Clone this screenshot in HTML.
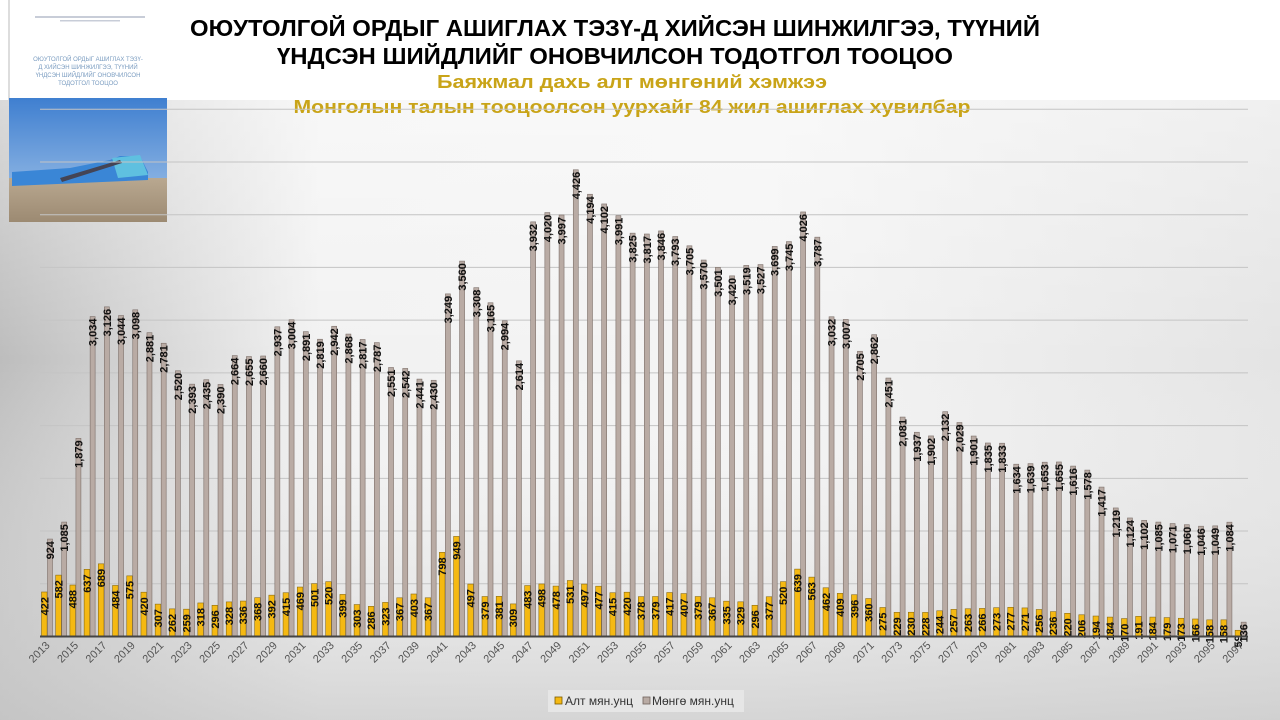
<!DOCTYPE html>
<html><head><meta charset="utf-8"><style>
html,body{margin:0;padding:0;width:1280px;height:720px;overflow:hidden}
svg{display:block}
</style></head><body>
<svg id="s" width="1280" height="720" xmlns="http://www.w3.org/2000/svg" font-family="Liberation Sans, DejaVu Sans, sans-serif">
<defs>
<linearGradient id="bgH" x1="0" y1="0" x2="1" y2="0">
<stop offset="0" stop-color="#bdbdbd"/><stop offset="0.25" stop-color="#f2f2f2"/><stop offset="0.6" stop-color="#f4f4f4"/><stop offset="1" stop-color="#e4e4e4"/>
</linearGradient>
<linearGradient id="bgV" x1="0" y1="0" x2="0" y2="1">
<stop offset="0" stop-color="#ffffff" stop-opacity="0.6"/><stop offset="0.5" stop-color="#ffffff" stop-opacity="0"/><stop offset="1" stop-color="#c8c8c8" stop-opacity="0.7"/>
</linearGradient>
<linearGradient id="sky" x1="0" y1="0" x2="0" y2="1">
<stop offset="0" stop-color="#3f7fd0"/><stop offset="1" stop-color="#a9c8ea"/>
</linearGradient>
<linearGradient id="ground" x1="0" y1="0" x2="0" y2="1">
<stop offset="0" stop-color="#b9a890"/><stop offset="1" stop-color="#9c8a72"/>
</linearGradient>
</defs>
<rect width="1280" height="720" fill="url(#bgH)"/>
<rect width="1280" height="720" fill="url(#bgV)"/>
<rect x="0" y="0" width="1280" height="100" fill="#ffffff"/>
<rect x="9" y="0" width="158" height="100" fill="#fff"/>
<line x1="9" y1="0" x2="9" y2="100" stroke="#bbb"/>
<rect x="35" y="16" width="110" height="2" fill="#c8cdd8"/>
<rect x="60" y="20" width="60" height="1.5" fill="#c8cdd8"/>
<text x="88" y="61" font-size="6" fill="#7a9cc0" text-anchor="middle">ОЮУТОЛГОЙ ОРДЫГ АШИГЛАХ ТЭЗҮ-</text>
<text x="88" y="69" font-size="6" fill="#7a9cc0" text-anchor="middle">Д ХИЙСЭН ШИНЖИЛГЭЭ, ТҮҮНИЙ</text>
<text x="88" y="77" font-size="6" fill="#7a9cc0" text-anchor="middle">ҮНДСЭН ШИЙДЛИЙГ ОНОВЧИЛСОН</text>
<text x="88" y="85" font-size="6" fill="#7a9cc0" text-anchor="middle">ТОДОТГОЛ ТООЦОО</text>
<rect x="9" y="98" width="158" height="124" fill="url(#sky)"/>
<rect x="9" y="178" width="158" height="44" fill="url(#ground)"/>
<polygon points="12,172 70,168 110,160 120,156 140,156 148,172 148,180 12,186" fill="#3a86d6"/>
<polygon points="112,158 140,155 148,175 118,178" fill="#5fc0e0"/>
<polygon points="60,178 120,160 122,163 62,182" fill="#445"/>
<text x="615" y="36" font-size="23" font-weight="bold" text-anchor="middle" textLength="850" lengthAdjust="spacingAndGlyphs">ОЮУТОЛГОЙ ОРДЫГ АШИГЛАХ ТЭЗҮ-Д ХИЙСЭН ШИНЖИЛГЭЭ, ТҮҮНИЙ</text>
<text x="615" y="64" font-size="23" font-weight="bold" text-anchor="middle" textLength="676" lengthAdjust="spacingAndGlyphs">ҮНДСЭН ШИЙДЛИЙГ ОНОВЧИЛСОН ТОДОТГОЛ ТООЦОО</text>
<text x="632" y="88" font-size="18" font-weight="bold" fill="#c9a418" text-anchor="middle" textLength="390" lengthAdjust="spacingAndGlyphs">Баяжмал дахь алт мөнгөний хэмжээ</text>
<text x="632" y="113" font-size="18" font-weight="bold" fill="#c9a418" text-anchor="middle" textLength="677" lengthAdjust="spacingAndGlyphs">Монголын талын тооцоолсон уурхайг 84 жил ашиглах хувилбар</text>
<g id="plot"></g>
<rect x="548" y="690" width="196" height="22" fill="#e6e6e6"/>
<rect x="555" y="697" width="7" height="7" fill="#f5b912" stroke="#7a5a00" stroke-width="0.8"/>
<text x="565" y="705" font-size="12" fill="#333">Алт мян.унц</text>
<rect x="643" y="697" width="7" height="7" fill="#b9aba4" stroke="#6f625c" stroke-width="0.8"/>
<text x="652" y="705" font-size="12" fill="#333">Мөнгө мян.унц</text>
</svg>
<script>
var g=[422,582,488,637,689,484,575,420,307,262,259,318,296,328,336,368,392,415,469,501,520,399,303,286,323,367,403,367,798,949,497,379,381,309,483,498,478,531,497,477,415,420,378,379,417,407,379,367,335,329,296,377,520,639,563,462,409,396,360,275,229,230,228,244,257,263,266,273,277,271,256,236,220,206,194,184,170,191,184,179,173,166,158,158,59];
var s=[924,1085,1879,3034,3126,3044,3098,2881,2781,2520,2393,2435,2390,2664,2655,2660,2937,3004,2891,2819,2942,2868,2817,2787,2551,2542,2441,2430,3249,3560,3308,3165,2994,2614,3932,4020,3997,4426,4194,4102,3991,3825,3817,3846,3793,3705,3570,3501,3420,3519,3527,3699,3745,4026,3787,3032,3007,2705,2862,2451,2081,1937,1902,2132,2029,1901,1835,1833,1634,1639,1653,1655,1616,1578,1417,1219,1124,1102,1085,1071,1060,1046,1049,1084,136];
var base=636.5,k=0.10545,h='';
for(var v=500;v<=5000;v+=500){var y=base-v*k;h+='<line x1="40" x2="1248" y1="'+y+'" y2="'+y+'" stroke="#c4c4c4" stroke-width="1"/>';}
function f(n){return n>=1000?Math.floor(n/1000)+','+('00'+(n%1000)).slice(-3):''+n;}
for(var i=0;i<85;i++){
 var c=47.5+i*14.21;
 var gy=base-g[i]*k, sy=base-s[i]*k;
 h+='<rect x="'+(c-6)+'" y="'+gy+'" width="5.6" height="'+(base-gy)+'" fill="#f5b912" stroke="#8a6a10" stroke-width="0.6"/>';
 h+='<rect x="'+(c)+'" y="'+sy+'" width="5" height="'+(base-sy)+'" fill="#b9aba4" stroke="#7d706a" stroke-width="0.6"/>';
 h+='<text transform="translate('+(c-3.2+4)+','+(gy+5)+') rotate(-90)" font-size="11" font-weight="bold" text-anchor="end" fill="#111">'+f(g[i])+'</text>';
 h+='<text transform="translate('+(c+2.5+4)+','+(sy+2)+') rotate(-90)" font-size="11" font-weight="bold" text-anchor="end" fill="#111">'+f(s[i])+'</text>';
 if(i%2==0){h+='<text transform="translate('+(c+3)+',646) rotate(-45)" font-size="11" text-anchor="end" fill="#555">'+(2013+i)+'</text>';}
}
h+='<line x1="40" x2="1248" y1="'+base+'" y2="'+base+'" stroke="#444" stroke-width="2"/>';
document.getElementById('plot').innerHTML=h;
</script>
</body></html>
